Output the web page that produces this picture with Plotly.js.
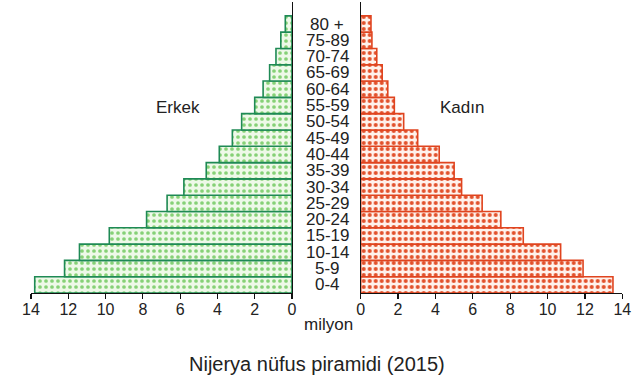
<!DOCTYPE html>
<html>
<head>
<meta charset="utf-8">
<script src="https://cdn.plot.ly/plotly-3.0.1.min.js"></script>
<style>html,body{margin:0;padding:0;background:#fff}#chart{width:640px;height:376px}</style>
</head>
<body>
<div id="chart"></div>
<script>
var ageGroups = ["0-4","5-9","10-14","15-19","20-24","25-29","30-34","35-39","40-44","45-49","50-54","55-59","60-64","65-69","70-74","75-89","80 +"];
var maleValues = [13.8,12.2,11.4,9.8,7.8,6.7,5.8,4.6,3.9,3.2,2.7,2.0,1.55,1.2,0.86,0.6,0.36];
var femaleValues = [13.5,11.9,10.7,8.7,7.5,6.5,5.4,5.0,4.2,3.05,2.3,1.8,1.45,1.15,0.86,0.6,0.55];
var tickValues = [0,2,4,6,8,10,12,14];
var tickLabels = ["0","2","4","6","8","10","12","14"];
var maleLabel = "Erkek";
var femaleLabel = "Kadın";
var unitLabel = "milyon";
var chartTitle = "Nijerya nüfus piramidi (2015)";

var font = "Liberation Sans, Arial, Helvetica, sans-serif";

var traces = [
  {
    type: "bar", orientation: "h", x: maleValues, y: ageGroups,
    xaxis: "x", yaxis: "y",
    marker: {
      color: "#eaf7e4",
      line: {color: "#1f8a55", width: 1.6},
      pattern: {shape: ".", fgcolor: "#86d176", bgcolor: "#eef9e8", size: 6, solidity: 0.3, fillmode: "replace"}
    },
    hoverinfo: "skip"
  },
  {
    type: "bar", orientation: "h", x: femaleValues, y: ageGroups,
    xaxis: "x2", yaxis: "y2",
    marker: {
      color: "#fdeee6",
      line: {color: "#e0441f", width: 1.6},
      pattern: {shape: ".", fgcolor: "#e2502a", bgcolor: "#fff2ec", size: 6, solidity: 0.35, fillmode: "replace"}
    },
    hoverinfo: "skip"
  }
];

var annotations = ageGroups.map(function(g){
  return {text: g, x: 327/640, xref: "paper", y: g, yref: "y", showarrow: false,
    xanchor: "center", yanchor: "middle", font: {family: font, size: 17, color: "#222"}};
});
annotations.push({text: maleLabel, x: 178/640, xref: "paper", y: 1-105/291, yref: "paper", showarrow: false, xanchor: "center", yanchor: "middle", font: {family: font, size: 17, color: "#222"}});
annotations.push({text: femaleLabel, x: 462/640, xref: "paper", y: 1-105/291, yref: "paper", showarrow: false, xanchor: "center", yanchor: "middle", font: {family: font, size: 17, color: "#222"}});
annotations.push({text: unitLabel, x: 328/640, xref: "paper", y: -(324-293)/291, yref: "paper", showarrow: false, xanchor: "center", yanchor: "middle", font: {family: font, size: 17, color: "#222"}});
annotations.push({text: chartTitle, x: 317/640, xref: "paper", y: -(364-293)/291, yref: "paper", showarrow: false, xanchor: "center", yanchor: "middle", font: {family: font, size: 20, color: "#222"}});

var xCommon = {
  tickvals: tickValues, ticktext: tickLabels, showline: true, linecolor: "#111", linewidth: 1.2,
  ticks: "outside", ticklen: 5, tickcolor: "#111", tickwidth: 1.2, showgrid: false, zeroline: false,
  ticklabelstandoff: -3,
  tickfont: {family: font, size: 16, color: "#222"}, fixedrange: true
};

var layout = {
  width: 640, height: 376,
  margin: {l: 0, r: 0, t: 2, b: 83},
  paper_bgcolor: "#fff", plot_bgcolor: "rgba(0,0,0,0)",
  showlegend: false, bargap: 0,
  xaxis: Object.assign({}, xCommon, {domain: [31/640, 292/640], range: [14, 0], anchor: "y"}),
  xaxis2: Object.assign({}, xCommon, {domain: [360.7/640, 622.3/640], range: [0, 14], anchor: "y2"}),
  yaxis: {anchor: "x", side: "right", range: [-0.5, 17.35], showline: true, linecolor: "#111", linewidth: 1.2, showticklabels: false, ticks: "", showgrid: false, zeroline: false, type: "category", fixedrange: true},
  yaxis2: {anchor: "x2", side: "left", range: [-0.5, 17.35], showline: true, linecolor: "#111", linewidth: 1.2, showticklabels: false, ticks: "", showgrid: false, zeroline: false, type: "category", fixedrange: true},
  annotations: annotations
};

Plotly.newPlot("chart", traces, layout, {displayModeBar: false, staticPlot: true});
</script>
</body>
</html>
